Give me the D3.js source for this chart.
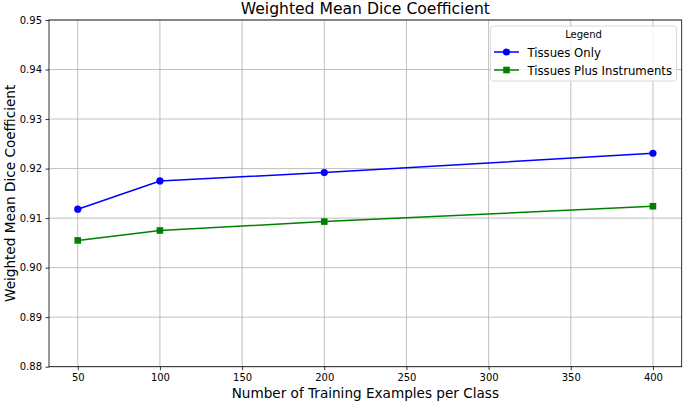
<!DOCTYPE html>
<html><head><meta charset="utf-8">
<script src="https://cdn.jsdelivr.net/npm/d3@7"></script>
<style>body{margin:0;background:#fff;} text{font-family:"DejaVu Sans",sans-serif;}</style>
</head><body><svg id="c" width="685" height="403"></svg>
<script>
const examples = [50, 100, 200, 400];
const tissuesOnly = [0.9118, 0.9175, 0.9192, 0.9231];
const tissuesPlus = [0.9055, 0.9075, 0.9093, 0.9124];
const xTicks = [50, 100, 150, 200, 250, 300, 350, 400];
const yTicks = [0.88, 0.89, 0.90, 0.91, 0.92, 0.93, 0.94, 0.95];
const seriesNames = ["Tissues Only", "Tissues Plus Instruments"];
const seriesColors = ["#0000ff", "#008000"];

const svg = d3.select("#c");
const L = 49, R = 681.7, T = 20, B = 366.7;
const x = d3.scaleLinear().domain([32.5, 417.5]).range([L, R]);
const y = d3.scaleLinear().domain([0.88, 0.95]).range([B, T]);

const g = svg.append("g");
g.selectAll(".gx").data(xTicks).join("line")
  .attr("x1", d => x(d)).attr("x2", d => x(d)).attr("y1", T).attr("y2", B)
  .attr("stroke", "#b0b0b0").attr("stroke-width", 0.8);
g.selectAll(".gy").data(yTicks).join("line")
  .attr("y1", d => y(d)).attr("y2", d => y(d)).attr("x1", L).attr("x2", R)
  .attr("stroke", "#b0b0b0").attr("stroke-width", 0.8);

const xAxis = d3.axisBottom(x).tickValues(xTicks).tickSize(3.5).tickPadding(3.5).tickFormat(d3.format("d"));
const yAxis = d3.axisLeft(y).tickValues(yTicks).tickSize(3.5).tickPadding(3.5).tickFormat(d3.format(".2f"));
const ax = svg.append("g").attr("transform", `translate(0,${B})`).call(xAxis);
const ay = svg.append("g").attr("transform", `translate(${L},0)`).call(yAxis);
[ax, ay].forEach(a => {
  a.select(".domain").remove();
  a.selectAll("text").attr("font-size", 10).attr("fill", "#000").style("font-family", "DejaVu Sans");
  a.selectAll("line").attr("stroke", "#000").attr("stroke-width", 0.8);
});
svg.append("rect").attr("x", L).attr("y", T).attr("width", R - L).attr("height", B - T)
  .attr("fill", "none").attr("stroke", "#000").attr("stroke-width", 0.8);

const line = d3.line().x((d, i) => x(examples[i])).y(d => y(d));
const data = [tissuesOnly, tissuesPlus];
data.forEach((s, k) => {
  svg.append("path").datum(s).attr("d", line).attr("fill", "none")
    .attr("stroke", seriesColors[k]).attr("stroke-width", 1.5);
  if (k === 0) {
    svg.selectAll(null).data(s).join("circle")
      .attr("cx", (d, i) => x(examples[i])).attr("cy", d => y(d)).attr("r", 3.6)
      .attr("fill", seriesColors[k]);
  } else {
    svg.selectAll(null).data(s).join("rect")
      .attr("x", (d, i) => x(examples[i]) - 3.3).attr("y", d => y(d) - 3.3)
      .attr("width", 6.6).attr("height", 6.6).attr("fill", seriesColors[k]);
  }
});

svg.append("text").attr("x", (L + R) / 2).attr("y", 14).attr("text-anchor", "middle")
  .attr("font-size", 15.6).text("Weighted Mean Dice Coefficient");
svg.append("text").attr("x", (L + R) / 2).attr("y", 398).attr("text-anchor", "middle")
  .attr("font-size", 13.6).text("Number of Training Examples per Class");
svg.append("text").attr("transform", `translate(15,${(T + B) / 2}) rotate(-90)`).attr("text-anchor", "middle")
  .attr("font-size", 13.6).text("Weighted Mean Dice Coefficient");

const lg = svg.append("g");
lg.append("rect").attr("x", 490.5).attr("y", 26).attr("width", 186).attr("height", 55).attr("rx", 3)
  .attr("fill", "#fff").attr("fill-opacity", 0.8).attr("stroke", "#d0d0d0").attr("stroke-width", 0.8);
lg.append("text").attr("x", 583.5).attr("y", 37.5).attr("text-anchor", "middle").attr("font-size", 10).text("Legend");
seriesNames.forEach((n, k) => {
  const yy = 52 + k * 18;
  lg.append("line").attr("x1", 494).attr("x2", 519).attr("y1", yy).attr("y2", yy)
    .attr("stroke", seriesColors[k]).attr("stroke-width", 1.5);
  if (k === 0) lg.append("circle").attr("cx", 506.5).attr("cy", yy).attr("r", 3.6).attr("fill", seriesColors[k]);
  else lg.append("rect").attr("x", 503.2).attr("y", yy - 3.3).attr("width", 6.6).attr("height", 6.6).attr("fill", seriesColors[k]);
  lg.append("text").attr("x", 527.5).attr("y", yy + 4.5).attr("font-size", 11.7).text(n);
});
</script></body></html>
